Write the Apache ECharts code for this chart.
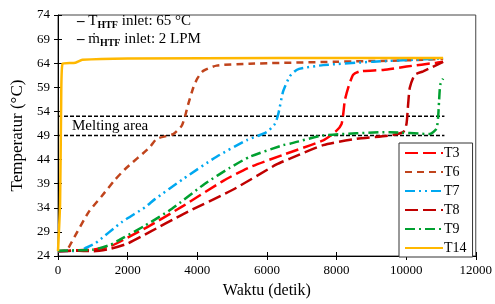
<!DOCTYPE html>
<html>
<head>
<meta charset="utf-8">
<script src="https://cdn.jsdelivr.net/npm/echarts@6/dist/echarts.min.js"></script>
<style>
  html, body { margin: 0; padding: 0; background: #fff; }
  #chart { width: 495px; height: 304px; }
</style>
</head>
<body>
<div id="chart"></div>
<script>
// time (s) / temperature (°C)
const t3Time = [0, 600, 1000, 1500, 2000, 2641, 3598, 4747, 5500, 6469, 7618, 8001, 8145, 8193, 8240, 8335, 8479, 8670, 9340, 10010, 10870, 11062]
const t3Temp = [25, 25.2, 25.3, 26, 27.8, 30.3, 34.4, 39.6, 42.4, 45, 48, 50, 51.4, 53.4, 56.3, 58.9, 61.6, 62.3, 62.6, 63.3, 64.1, 64.3]

const t6Time = [0, 250, 393, 870, 1254, 1636, 1924, 2641, 2833, 3310, 3552, 3646, 3741, 3885, 4000, 4172, 4556, 5500, 8000, 10000, 11062]
const t6Temp = [25, 25.2, 26.9, 33, 36.4, 39.8, 42, 46.6, 48.3, 49.3, 51, 52.9, 55.5, 58.9, 60.8, 62.4, 63.5, 63.9, 64.3, 64.6, 64.9]

const t7Time = [0, 600, 775, 1062, 1828, 2498, 2785, 3598, 4556, 5417, 5991, 6230, 6326, 6469, 6661, 6853, 7044, 7618, 9053, 10488, 11062]
const t7Temp = [25, 25.1, 25.6, 26.6, 31, 34.1, 35.8, 40, 44.6, 48, 49.7, 51.4, 53.4, 58.2, 61.3, 62.6, 63, 63.6, 64.3, 64.8, 65]

const t8Time = [0, 600, 1000, 1500, 2000, 2641, 3598, 5034, 6278, 6661, 7618, 8575, 9532, 9915, 10010, 10058, 10105, 10249, 10488, 11062]
const t8Temp = [25, 25.1, 25, 25.5, 26.6, 29, 32.7, 37.8, 43, 44.2, 47, 48.3, 49, 49.7, 51.4, 55.5, 58.9, 61.6, 62.3, 64.3]

const t9Time = [0, 600, 1000, 1500, 1828, 2498, 3273, 4220, 4938, 5512, 6469, 6661, 7618, 9532, 10680, 10870, 10918, 10946, 10980, 11062]
const t9Temp = [25.1, 25.2, 25.3, 26.3, 27.6, 30.3, 33.8, 39, 42.3, 44.6, 47, 47.3, 49, 49.7, 49.3, 50.4, 52.7, 56.1, 59.5, 60.8]

const t14Time = [0, 60, 90, 130, 500, 700, 2000, 11062]
const t14Temp = [25, 35, 55, 63.9, 64.1, 64.7, 65, 65.1]

const meltTop = 53
const meltBottom = 49
const meltEnd = 11100

const yTicks = [24, 74, 5]
const xTicks = [0, 12000, 2000]

const font = 'Liberation Serif'

const pairs = (xs, ys) => xs.map((x, i) => [x, ys[i]])

function curve(name, xs, ys, color, dash) {
  return {
    name,
    type: 'line',
    data: pairs(xs, ys),
    showSymbol: false,
    symbol: 'none',
    smooth: 0.2,
    lineStyle: { color, width: 2.5, type: dash },
    itemStyle: { color },
    z: 3
  }
}

function meltLine(y) {
  return {
    type: 'line',
    data: [[0, y], [meltEnd, y]],
    showSymbol: false,
    symbol: 'none',
    silent: true,
    lineStyle: { color: '#000', width: 1.5, type: [4, 2] },
    z: 2
  }
}

const chart = echarts.init(document.getElementById('chart'))

chart.setOption({
  animation: false,
  textStyle: { fontFamily: font, color: '#000' },
  grid: {
    left: 58,
    right: 19,
    top: 15,
    bottom: 43,
    show: true,
    borderColor: '#444',
    borderWidth: 1
  },
  legend: {
    orient: 'vertical',
    left: 399,
    top: 143,
    padding: [3, 6, 2, 5],
    itemWidth: 38,
    itemHeight: 14,
    itemGap: 5,
    borderColor: '#333',
    borderWidth: 1,
    backgroundColor: '#fff',
    itemStyle: { opacity: 0 },
    textStyle: { fontFamily: font, fontSize: 14, color: '#000', padding: [0, 0, 0, -4] },
    data: ['T3', 'T6', 'T7', 'T8', 'T9', 'T14']
  },
  xAxis: [{
    type: 'value',
    min: xTicks[0],
    max: xTicks[1],
    interval: xTicks[2],
    name: 'Waktu (detik)',
    nameLocation: 'middle',
    nameGap: 27,
    nameTextStyle: { fontFamily: font, fontSize: 16, color: '#000' },
    axisLine: { lineStyle: { color: '#000', width: 1 } },
    axisTick: { show: true, length: 4, lineStyle: { color: '#000' } },
    axisLabel: { fontFamily: font, fontSize: 13, color: '#000', margin: 8, formatter: v => String(v) },
    splitLine: { show: false }
  }, {
    type: 'value',
    position: 'bottom',
    min: xTicks[0],
    max: xTicks[1],
    interval: xTicks[2],
    axisLine: { show: false },
    axisTick: { show: true, inside: true, length: 4, lineStyle: { color: '#000' } },
    axisLabel: { show: false },
    splitLine: { show: false }
  }],
  yAxis: [{
    type: 'value',
    min: yTicks[0],
    max: yTicks[1],
    interval: yTicks[2],
    name: 'Temperatur (°C)',
    nameLocation: 'middle',
    nameGap: 30,
    nameTextStyle: { fontFamily: font, fontSize: 17, color: '#000' },
    axisLine: { show: true, lineStyle: { color: '#000', width: 1 } },
    axisTick: { show: true, length: 4, lineStyle: { color: '#000' } },
    axisLabel: { fontFamily: font, fontSize: 13, color: '#000', margin: 8 },
    splitLine: { show: false }
  }, {
    type: 'value',
    position: 'left',
    min: yTicks[0],
    max: yTicks[1],
    interval: yTicks[2],
    axisLine: { show: false },
    axisTick: { show: true, inside: true, length: 4, lineStyle: { color: '#000' } },
    axisLabel: { show: false },
    splitLine: { show: false }
  }],
  graphic: [{
    type: 'text',
    left: 77,
    top: 14,
    style: {
      text: '{d|–} T{s|HTF} inlet: 65 °C',
      font: '15px ' + font,
      fill: '#000',
      rich: {
        d: { fontFamily: font, fontSize: 15, fontWeight: 'bold' },
        s: { fontFamily: font, fontSize: 10, fontWeight: 'bold', padding: [7, 0, 0, 0] }
      }
    }
  }, {
    type: 'text',
    left: 77,
    top: 32,
    style: {
      text: '{d|–} ṁ{s|HTF} inlet: 2 LPM',
      font: '15px ' + font,
      fill: '#000',
      rich: {
        d: { fontFamily: font, fontSize: 15, fontWeight: 'bold' },
        s: { fontFamily: font, fontSize: 10, fontWeight: 'bold', padding: [7, 0, 0, 0] }
      }
    }
  }, {
    type: 'text',
    left: 72,
    top: 119,
    style: { text: 'Melting area', font: '15px ' + font, fill: '#000' }
  }],
  series: [
    meltLine(meltTop),
    meltLine(meltBottom),
    curve('T3', t3Time, t3Temp, '#ff0000', [13, 5]),
    curve('T6', t6Time, t6Temp, '#c0441c', [7, 5]),
    curve('T7', t7Time, t7Temp, '#00a8f0', [10, 4, 2, 4, 2, 4]),
    curve('T8', t8Time, t8Temp, '#c00000', [13, 5]),
    curve('T9', t9Time, t9Temp, '#00a030', [10, 4, 2, 4]),
    curve('T14', t14Time, t14Temp, '#ffb800', 'solid')
  ]
})
</script>
</body>
</html>
